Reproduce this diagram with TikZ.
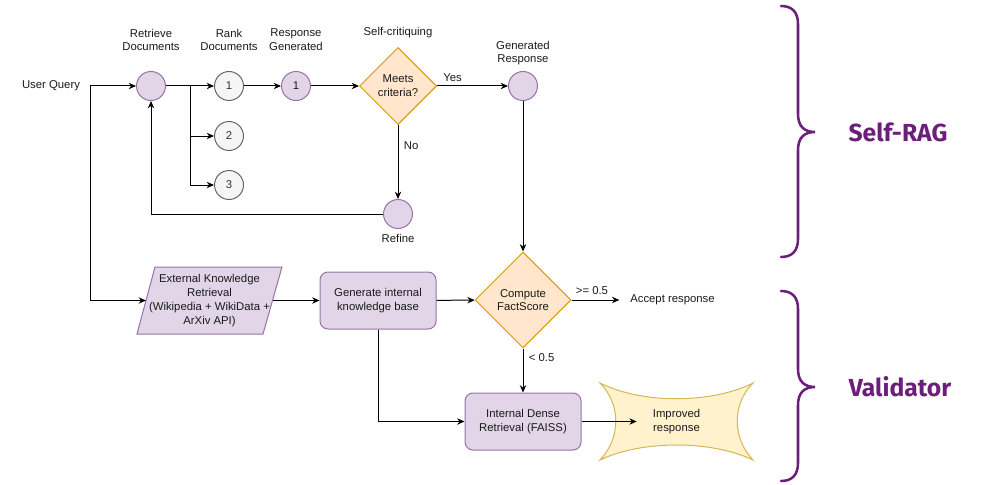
\documentclass[tikz,border=0pt]{standalone}
\usepackage{fontspec}
\setmainfont{Liberation Sans}
\newfontfamily\bracefont{Fira Sans}
\usetikzlibrary{shapes.geometric,arrows.meta}
\definecolor{pfill}{HTML}{E1D5E7}
\definecolor{pstroke}{HTML}{9673A6}
\definecolor{gfill}{HTML}{F5F5F5}
\definecolor{gstroke}{HTML}{666666}
\definecolor{gtext}{HTML}{333333}
\definecolor{ofill}{HTML}{FFE6CC}
\definecolor{ostroke}{HTML}{D79B00}
\definecolor{yfill}{HTML}{FFF2CC}
\definecolor{ystroke}{HTML}{D6B656}
\definecolor{txt}{HTML}{1A1A1A}
\definecolor{brc}{HTML}{6B1F7B}
\begin{document}
\begin{tikzpicture}[x=0.75pt,y=-0.75pt,
  font=\fontsize{8.5}{10.3}\selectfont, text=txt,
  pcirc/.style={circle, draw=pstroke, fill=pfill, minimum size=21.75pt, inner sep=0pt, line width=0.75pt},
  gcirc/.style={circle, draw=gstroke, fill=gfill, text=gtext, minimum size=21.75pt, inner sep=0pt, line width=0.75pt},
  dia/.style={diamond, draw=ostroke, fill=ofill, inner sep=0pt, aspect=1, align=center, line width=0.75pt},
  rbox/.style={rectangle, rounded corners=6pt, draw=pstroke, fill=pfill, minimum width=87pt, minimum height=42.75pt, align=center, line width=0.75pt},
  lbl/.style={align=center, inner sep=0pt},
  conn/.style={draw=black, line width=0.75pt},
  arr/.style={conn, -{Stealth[length=5.5pt,width=4.8pt]}},
  brace/.style={draw=brc, line width=1.9pt, line cap=round},
  bigtxt/.style={text=brc, font=\bracefont\bfseries\fontsize{18.5}{20}\selectfont, inner sep=0pt}
]
\useasboundingbox (0,0) rectangle (985,485);

% Self-RAG row
\node[lbl] (uq) at (51,86) {User Query};
\coordinate (uqr) at (90,86);
\node[pcirc] (ret) at (151,86) {};
\node[lbl] (retl) at (151,40) {Retrieve\\Documents};
\node[gcirc] (r1) at (229,86) {1};
\node[gcirc] (r2) at (229,136) {2};
\node[gcirc] (r3) at (229,185) {3};
\node[lbl] (rankl) at (229,40) {Rank\\Documents};
\coordinate (br) at (190,86);
\node[pcirc] (resp) at (296,86) {1};
\node[lbl] (respl) at (296,40) {Response\\Generated};
\node[dia, minimum size=57.75pt] (meets) at (398,86) {Meets\\criteria?};
\node[lbl] (scl) at (398,33) {Self-critiquing};
\node[pcirc] (gen) at (523,86) {};
\node[lbl] (genl) at (523,53) {Generated\\Response};
\node[pcirc] (ref) at (398,214) {};
\node[lbl] (refl) at (398,238) {Refine};

% Validator row
\path[draw=pstroke, fill=pfill, line width=0.75pt] (155,267) -- (282,267) -- (263,334) -- (137,334) -- cycle;
\node[lbl, minimum width=94.9pt, minimum height=50.25pt] (ext) at (209.5,300.5) {External Knowledge\\Retrieval\\(Wikipedia + WikiData +\\ArXiv API)};
\node[rbox] (gikb) at (378,300.5) {Generate internal\\knowledge base};
\node[dia, minimum size=72pt] (fact) at (523,300) {Compute\\FactScore};
\node[lbl, anchor=west] (acc) at (630,300) {Accept response};
\node[rbox] (dense) at (523,421.5) {Internal Dense\\Retrieval (FAISS)};
\path[draw=ystroke, fill=yfill, line width=0.75pt]
  (600,383) .. controls (642,404) and (711,404) .. (753,383)
  .. controls (732,404) and (732,438) .. (753,460)
  .. controls (711,440) and (642,440) .. (600,460)
  .. controls (621,438) and (621,404) .. (600,383) -- cycle;
\node[lbl, minimum width=59.25pt] (imp) at (676.5,421.5) {Improved\\response};

% connectors
\draw[arr] (uqr) -- (ret);
\draw[arr] (uqr) |- (ext.west);
\draw[conn] (ret) -- (br);
\draw[arr] (br) -- (r1);
\draw[arr] (br) |- (r2);
\draw[arr] (br) |- (r3);
\draw[arr] (r1) -- (resp);
\draw[arr] (resp) -- (meets);
\draw[arr] (meets) -- node[lbl, above=3pt, pos=0.22] {Yes} (gen);
\draw[arr] (meets) -- node[lbl, right=4pt, pos=0.28] {No} (ref);
\draw[arr] (ref) -| (ret);
\draw[arr] (gen) -- (fact);
\draw[arr] (ext.east) -- (gikb);
\draw[arr] (gikb) -- (fact);
\draw[arr, shorten >=8pt] (fact) -- node[lbl, above=4pt, pos=0.35] {>= 0.5} (acc.west);
\draw[arr] (fact) -- node[lbl, right=4pt, pos=0.2] {< 0.5} (dense);
\draw[arr] (gikb) |- (dense);
\draw[arr] (dense) -- (imp);

% braces
\draw[brace] (781,6) .. controls (792,6) and (798,12) .. (798,24) -- (798,114)
  .. controls (798,126) and (804,132) .. (815,132)
  .. controls (804,132) and (798,138) .. (798,150) -- (798,239)
  .. controls (798,251) and (792,257) .. (781,257);
\draw[brace] (781,291) .. controls (792,291) and (798,297) .. (798,309) -- (798,369)
  .. controls (798,381) and (804,387) .. (815,387)
  .. controls (804,387) and (798,393) .. (798,405) -- (798,463)
  .. controls (798,475) and (792,481) .. (781,481);
\node[bigtxt] (srag) at (898,132) {Self-RAG};
\node[bigtxt] (val) at (900,387) {Validator};
\end{tikzpicture}
\end{document}
